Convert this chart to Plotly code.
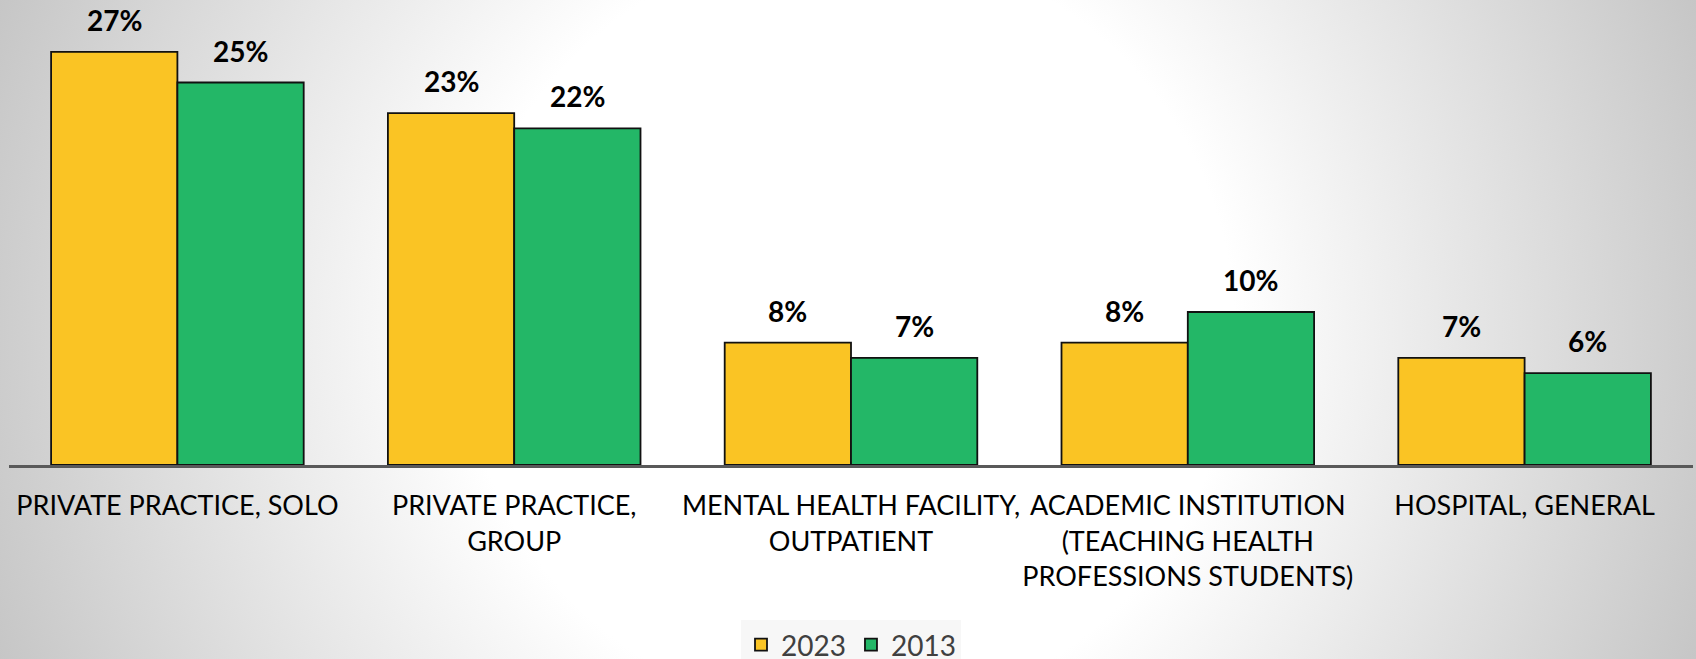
import base64
import plotly.graph_objects as go

categories = ["PRIVATE PRACTICE, SOLO", "PRIVATE PRACTICE,<br>GROUP",
              "MENTAL HEALTH FACILITY,<br>OUTPATIENT",
              "ACADEMIC INSTITUTION<br>(TEACHING HEALTH<br>PROFESSIONS STUDENTS)",
              "HOSPITAL, GENERAL"]
vals_2023 = [27, 23, 8, 8, 7]
vals_2013 = [25, 22, 7, 10, 6]

W, H = 1696, 659
ML, MR, MT, MB = 9, 3, 6, 194
PW, PH = W - ML - MR, H - MT - MB

FONT = "Lato"

# radial grey background (svg data uri), white in the middle
svg = f'''<svg xmlns="http://www.w3.org/2000/svg" width="{W}" height="{H}">
<defs><radialGradient id="g" gradientUnits="userSpaceOnUse" cx="{W / 2}" cy="330" r="920">
<stop offset="0" stop-color="#ffffff"/><stop offset="0.42" stop-color="#ffffff"/>
<stop offset="1" stop-color="#c5c5c5"/></radialGradient></defs>
<rect width="{W}" height="{H}" fill="url(#g)"/></svg>'''
bg = "data:image/svg+xml;base64," + base64.b64encode(svg.encode()).decode()

fig = go.Figure()
fig.add_trace(go.Bar(x=categories, y=vals_2023, name="2023",
                     marker=dict(color="#FAC424", line=dict(color="#111111", width=1.8))))
fig.add_trace(go.Bar(x=categories, y=vals_2013, name="2013",
                     marker=dict(color="#23B767", line=dict(color="#111111", width=1.8))))

# value labels above each bar
half = PW / 5 * 0.75 / 4
for vals, dx in [(vals_2023, -half), (vals_2013, half)]:
    for c, v in zip(categories, vals):
        fig.add_annotation(x=c, y=v, text=f"<b>{v}%</b>", showarrow=False,
                           xshift=dx, yshift=32, font=dict(family=FONT, size=28, color="#000000"))

fig.update_layout(
    width=W, height=H,
    margin=dict(l=ML, r=MR, t=MT, b=MB, autoexpand=False),
    paper_bgcolor="#d0d0d0", plot_bgcolor="rgba(0,0,0,0)",
    barmode="group", bargap=0.25, bargroupgap=0,
    font=dict(family=FONT, color="#000000"),
    images=[dict(source=bg, xref="paper", yref="paper", x=-ML / PW, y=1 + MT / PH,
                 sizex=W / PW, sizey=H / PH, xanchor="left", yanchor="top",
                 sizing="stretch", layer="below")],
    xaxis=dict(showgrid=False, showline=True, linecolor="#595959", linewidth=3,
               ticks="outside", ticklen=15, tickcolor="rgba(0,0,0,0)",
               tickfont=dict(family=FONT, size=27, color="#000000")),
    yaxis=dict(range=[0, 30], visible=False),
    legend=dict(orientation="h", x=0.5, xanchor="center", y=-155 / PH,
                yanchor="top", bgcolor="#f7f7f7",
                font=dict(family=FONT, size=28, color="#404040")),
    showlegend=True,
)

# page body has a default 8px margin; drop it so the figure fills the window
fig.write_html("out.html", config={"displayModeBar": False},
               post_script="document.body.style.margin='0';document.body.style.overflow='hidden';")
